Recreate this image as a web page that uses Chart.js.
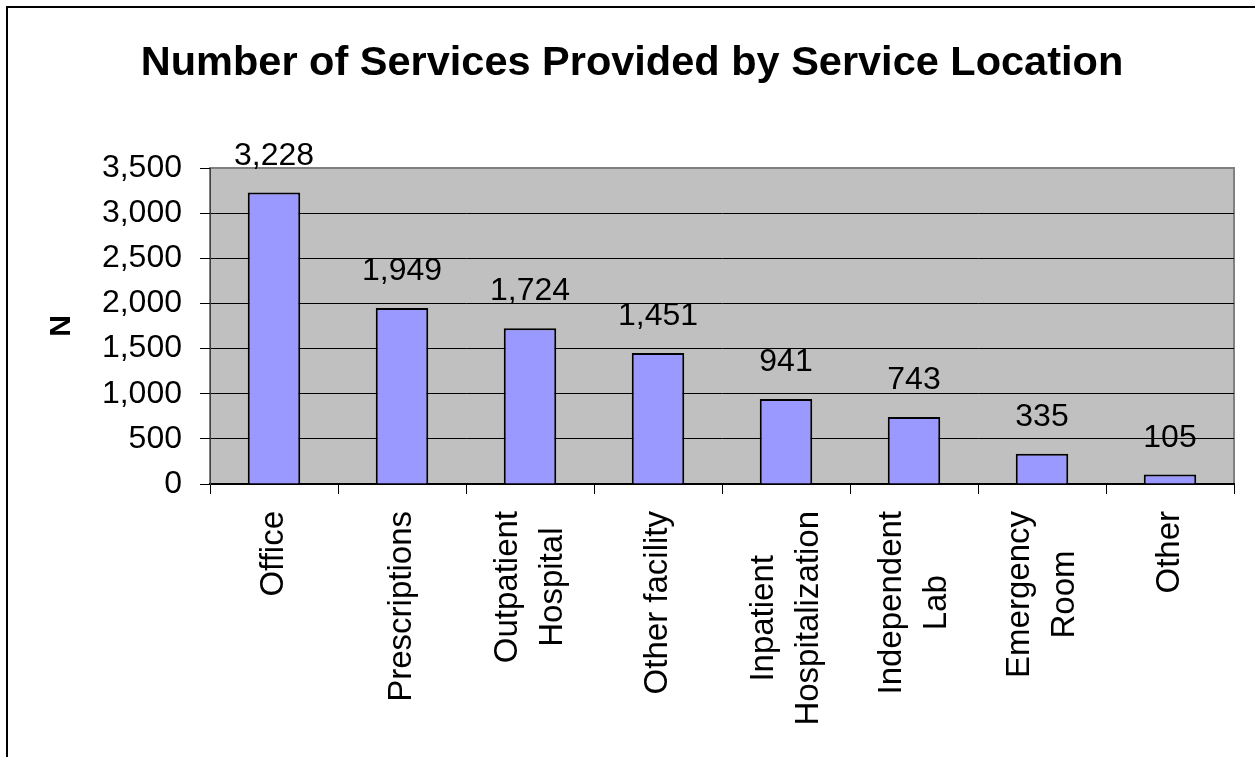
<!DOCTYPE html>
<html>
<head>
<meta charset="utf-8">
<script src="https://cdn.jsdelivr.net/npm/chart.js@4.4.1/dist/chart.umd.min.js"></script>
<style>
  html, body { margin: 0; padding: 0; background: #fff; overflow: hidden; }
  #wrap { position: relative; width: 1255px; height: 757px; }
</style>
</head>
<body>
<div id="wrap"><canvas id="chart"></canvas></div>
<script>
// Service locations (multi-line category labels) and their service counts
const locations = [
  ['Office'],
  ['Prescriptions'],
  ['Outpatient', 'Hospital'],
  ['Other facility'],
  ['Inpatient', 'Hospitalization'],
  ['Independent', 'Lab'],
  ['Emergency', 'Room'],
  ['Other']
];
const services = [3228, 1949, 1724, 1451, 941, 743, 335, 105];
const yTicks = [0, 500, 1000, 1500, 2000, 2500, 3000, 3500];

const FONT = "Arial, 'Liberation Sans', Helvetica, sans-serif";
const fmt = v => Number(v).toLocaleString('en-US');

// Outer frame and grey plot background
const framePlugin = {
  id: 'frame',
  beforeDraw(chart) {
    const { ctx, chartArea: a } = chart;
    ctx.save();
    ctx.fillStyle = '#ffffff';
    ctx.fillRect(0, 0, chart.width, chart.height);
    ctx.strokeStyle = '#000';
    ctx.lineWidth = 2;
    ctx.beginPath();
    ctx.moveTo(7, chart.height);
    ctx.lineTo(7, 7);
    ctx.lineTo(chart.width, 7);
    ctx.stroke();
    ctx.fillStyle = '#C0C0C0';
    ctx.fillRect(a.left, a.top, a.right - a.left, a.bottom - a.top);
    ctx.strokeStyle = '#808080';
    ctx.lineWidth = 2;
    ctx.strokeRect(a.left, a.top, a.right - a.left, a.bottom - a.top);
    ctx.restore();
  }
};

// Value labels above each bar
const valueLabels = {
  id: 'valueLabels',
  afterDatasetsDraw(chart) {
    const { ctx } = chart;
    const meta = chart.getDatasetMeta(0);
    ctx.save();
    ctx.font = '32px ' + FONT;
    ctx.fillStyle = '#000';
    ctx.textAlign = 'center';
    ctx.textBaseline = 'alphabetic';
    meta.data.forEach((bar, i) => {
      ctx.fillText(fmt(services[i]), bar.x, bar.y - 28);
    });
    ctx.restore();
  }
};

// Vertical category labels, lines centred on the longest line
const categoryLabels = {
  id: 'categoryLabels',
  afterDraw(chart) {
    const { ctx } = chart;
    const xs = chart.scales.x;
    const top = chart.chartArea.bottom + 27;
    const lineGap = 45;
    ctx.save();
    ctx.font = '33px ' + FONT;
    ctx.fillStyle = '#000';
    ctx.textAlign = 'center';
    ctx.textBaseline = 'middle';
    locations.forEach((lines, i) => {
      const cx = xs.getPixelForValue(i);
      const maxW = Math.max(...lines.map(l => ctx.measureText(l).width));
      lines.forEach((line, j) => {
        const x = cx + (j - (lines.length - 1) / 2) * lineGap;
        ctx.save();
        ctx.translate(x, top + maxW / 2);
        ctx.rotate(-Math.PI / 2);
        ctx.fillText(line, 0, 0);
        ctx.restore();
      });
    });
    ctx.restore();
  }
};

new Chart(document.getElementById('chart'), {
  type: 'bar',
  data: {
    labels: locations.map(l => l.join(' ')),
    datasets: [{
      data: services,
      backgroundColor: '#9999FF',
      borderColor: '#000',
      borderWidth: 2,
      barPercentage: 0.41,
      categoryPercentage: 1.0
    }]
  },
  options: {
    responsive: true,
    maintainAspectRatio: false,
    animation: false,
    layout: { padding: { left: 30, right: 21, top: 0, bottom: 0 } },
    plugins: {
      legend: { display: false },
      tooltip: { enabled: false },
      title: {
        display: true,
        text: 'Number of Services Provided by Service Location',
        color: '#000',
        font: { family: FONT, size: 41.5, weight: 'bold', lineHeight: 1.2 },
        padding: { top: 39, bottom: 79.2 }
      }
    },
    scales: {
      x: {
        offset: true,
        grid: {
          offset: true,
          drawOnChartArea: false,
          drawTicks: true,
          tickLength: 10,
          color: '#000',
          lineWidth: 1
        },
        border: { display: true, color: '#000', width: 2 },
        ticks: { display: false },
        afterFit(scale) { scale.height = 273; }
      },
      y: {
        min: 0,
        max: 3500,
        afterBuildTicks(scale) { scale.ticks = yTicks.map(v => ({ value: v })); },
        grid: {
          color: ctx => (ctx.tick && ctx.tick.value === 3500) ? '#808080' : '#000',
          tickColor: '#000',
          lineWidth: 1,
          drawTicks: true,
          tickLength: 10
        },
        border: { display: true, color: '#404040', width: 1 },
        ticks: {
          color: '#000',
          padding: 18,
          font: { family: FONT, size: 32 },
          callback: v => fmt(v)
        },
        title: {
          display: true,
          text: 'N',
          color: '#000',
          font: { family: FONT, size: 30, weight: 'bold', lineHeight: 1.2 },
          padding: { top: 14, bottom: 0 }
        },
        afterFit(scale) { scale.width = 180; }
      }
    }
  },
  plugins: [framePlugin, valueLabels, categoryLabels]
});
</script>
</body>
</html>
